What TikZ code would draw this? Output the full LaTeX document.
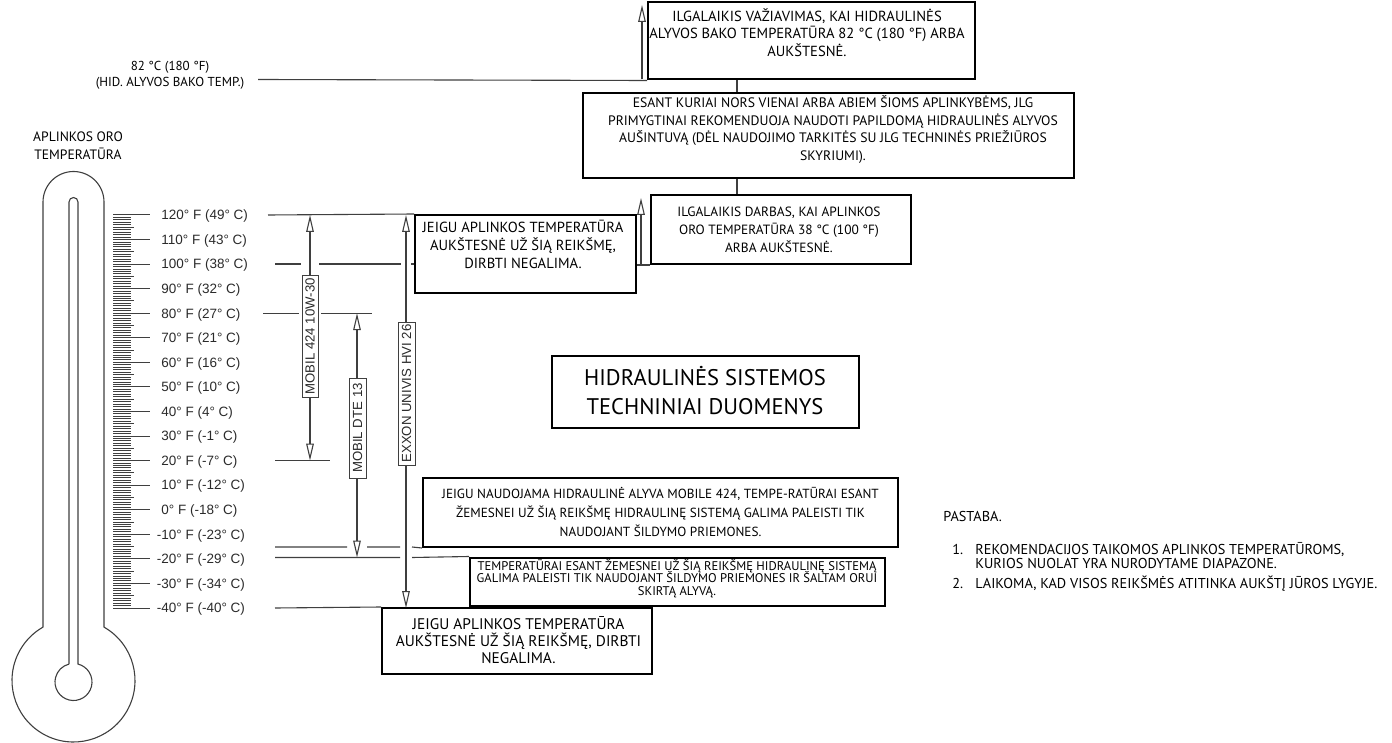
\documentclass[tikz,border=0pt]{standalone}
\usepackage{fontspec}
\setmainfont{PT Sans}
\newfontfamily\arialfam{Liberation Sans}
\usetikzlibrary{arrows.meta}
\definecolor{wire}{HTML}{3F3F3F}
\definecolor{scaleink}{HTML}{2A2A2A}
% box lettering: size and fixed leading
\newcommand{\boxtext}[2]{\fontsize{#1}{#2}\selectfont\lineskiplimit=-100pt\lineskip=0pt\relax}
\newcommand{\scaletext}{\arialfam\fontsize{6.75pt}{8pt}\selectfont}
\begin{document}
\begin{tikzpicture}[x=0.5pt,y=-0.5pt,
  frame/.style 2 args={draw=black, line width=1pt, fill=white, inner sep=0pt,
    minimum width=#1*0.5pt, minimum height=#2*0.5pt},
  txt/.style={align=center, inner sep=0pt, text=black},
  wireline/.style={draw=wire, line width=0.55pt},
  thermo/.style={draw=wire, line width=0.55pt},
  tick/.style={draw=wire, line width=0.5pt},
  uparrow/.style={wireline, -{Triangle[open, length=8.5pt, width=3.8pt]}},
  dbl/.style={wireline, {Triangle[open, length=8.5pt, width=3.8pt]}-{Triangle[open, length=8.5pt, width=3.8pt]}},
  vlab/.style 2 args={draw=wire, line width=0.5pt, fill=white, inner sep=0pt, rotate=90,
    minimum width=#1*0.5pt, minimum height=#2*0.5pt, font=\arialfam\fontsize{6.6pt}{7pt}\selectfont, text=scaleink},
  note/.style={anchor=base west, inner sep=0pt, font=\boxtext{7.15pt}{8pt}, text=black}
]
\useasboundingbox (0,0) rectangle (1392,743);

% ---------- thermometer ----------
\draw[thermo] (43,627.1) -- (43,202) arc[start angle=180, end angle=360, radius=30.5]
  -- (104,627.1) arc[start angle=-60.27, end angle=240.27, radius=61.5];
\draw[thermo] (69,664.06) -- (69,202) arc[start angle=180, end angle=360, radius=4.5]
  -- (78,664.06) arc[start angle=-75.92, end angle=255.92, radius=18.5];

% scale ticks, one per degree F
\foreach \i in {0,...,160}{
  \pgfmathsetmacro{\ty}{215+\i*2.45625}
  \pgfmathsetmacro{\tx}{ifthenelse(mod(\i,10)==0,150,ifthenelse(mod(\i,5)==0,134,131))}
  \draw[tick] (113,\ty) -- (\tx,\ty);
}
% scale labels
\foreach \f/\c [count=\k from 0] in {120/49,110/43,100/38,90/32,80/27,70/21,60/16,50/10,40/4,
    30/-1,20/-7,10/-12,0/-18,{\makebox[0pt][r]{-}10}/-23,{\makebox[0pt][r]{-}20}/-29,
    {\makebox[0pt][r]{-}30}/-34,{\makebox[0pt][r]{-}40}/-40}{
  \node[anchor=base west, inner sep=0pt, font=\scaletext, text=scaleink] (deg\k)
    at (161,{219.8+\k*24.5625}) {\f° F (\c° C)};
}

\node[txt, font=\boxtext{6.8pt}{9pt}] (ambient) at (78,146) {APLINKOS ORO\\TEMPERATŪRA};
\node[txt, font=\boxtext{6.5pt}{8pt}] (tanklabel) at (170,75) {82 °C (180 °F)\\(HID. ALYVOS BAKO TEMP.)};

% ---------- boxes ----------
\node[frame={327}{77.5}] (boxA) at (811.5,40.75) {};
\node[txt, font=\boxtext{7.3pt}{8.75pt}] (textA) at (807,32.5)
  {ILGALAIKIS VAŽIAVIMAS, KAI HIDRAULINĖS\\ALYVOS BAKO TEMPERATŪRA 82 °C (180 °F) ARBA\\AUKŠTESNĖ.};

\node[frame={491}{85.5}] (boxB) at (828.5,135.5) {};
\node[txt, font=\boxtext{6.85pt}{8.8pt}] (textB) at (833,129.6)
  {ESANT KURIAI NORS VIENAI ARBA ABIEM ŠIOMS APLINKYBĖMS, JLG\\PRIMYGTINAI REKOMENDUOJA NAUDOTI PAPILDOMĄ HIDRAULINĖS ALYVOS\\AUŠINTUVĄ (DĖL NAUDOJIMO TARKITĖS SU JLG TECHNINĖS PRIEŽIŪROS\\SKYRIUMI).};

\node[frame={260}{69}] (boxC) at (781,229.5) {};
\node[txt, font=\boxtext{6.7pt}{9.1pt}] (textC) at (779,230)
  {ILGALAIKIS DARBAS, KAI APLINKOS\\ORO TEMPERATŪRA 38 °C (100 °F)\\ARBA AUKŠTESNĖ.};

\node[frame={221}{78}] (boxD) at (525.5,254) {};
\node[txt, font=\boxtext{7.3pt}{9pt}] (textD) at (523,244.8)
  {JEIGU APLINKOS TEMPERATŪRA\\AUKŠTESNĖ UŽ ŠIĄ REIKŠMĘ,\\DIRBTI NEGALIMA.};

\node[frame={307}{72}] (boxH) at (705.5,392) {};
\node[txt, font=\fontsize{11.3pt}{14.2pt}\selectfont] (textH) at (705,390.5)
  {HIDRAULINĖS SISTEMOS\\TECHNINIAI DUOMENYS};

\node[frame={475}{69}] (boxE) at (660.5,512.5) {};
\node[txt, font=\boxtext{6.6pt}{9.35pt}] (textE) at (660.5,512)
  {JEIGU NAUDOJAMA HIDRAULINĖ ALYVA MOBILE 424, TEMPE-RATŪRAI ESANT\\ŽEMESNEI UŽ ŠIĄ REIKŠMĘ HIDRAULINĘ SISTEMĄ GALIMA PALEISTI TIK\\NAUDOJANT ŠILDYMO PRIEMONES.};

\node[frame={415}{48}] (boxF) at (677.5,581.5) {};
\node[txt, font=\boxtext{6.3pt}{6.2pt}] (textF) at (677,578.5)
  {TEMPERATŪRAI ESANT ŽEMESNEI UŽ ŠIĄ REIKŠMĘ HIDRAULINĘ SISTEMĄ\\GALIMA PALEISTI TIK NAUDOJANT ŠILDYMO PRIEMONES IR ŠALTAM ORUI\\SKIRTĄ ALYVĄ.};

\node[frame={270}{66}] (boxG) at (517,641) {};
\node[txt, font=\boxtext{7.7pt}{8.35pt}] (textG) at (518.5,640)
  {JEIGU APLINKOS TEMPERATŪRA\\AUKŠTESNĖ UŽ ŠIĄ REIKŠMĘ, DIRBTI\\NEGALIMA.};

% ---------- connectors between the upper boxes ----------
\coordinate (jx) at (737,0);
\draw[wireline] (boxA.south -| jx) -- (boxB.north -| jx);
\draw[wireline] (boxB.south -| jx) -- (boxC.north -| jx);

% hydraulic tank limit
\coordinate (tankline) at (258,79.5);
\draw[wireline] (tankline) -- (boxA.south west);
\coordinate (tankfoot) at (642,79.5);
\coordinate (tanktip) at (642,5);
\draw[uparrow] (tankfoot) -- (tanktip);

% ---------- temperature reference lines ----------
\draw[wireline] (268,215) -- (boxD.north west);
\draw[wireline] (275,264) -- (301,264) (319,264) -- (401,264) (411,264) -- (boxD.west |- 0,264);
\draw[wireline] (boxD.east |- boxC.south) -- (boxC.south west);
\coordinate (ambfoot) at (641,264);
\coordinate (ambtip) at (641,198);
\draw[uparrow] (ambfoot) -- (ambtip);
\draw[wireline] (263,313.2) -- (299,313.2) (321,313.2) -- (372,313.2);
\draw[wireline] (275,460.6) -- (330,460.6);
\draw[wireline] (275,547) -- (347,547) (367,547) -- (400,547) (412,547) -- (boxE.south west);
\draw[wireline] (275,557.5) -- (400,557.5) (412,557.5) -- (boxF.north west);
\draw[wireline] (275,608) -- (boxG.north west);

% ---------- oil ranges ----------
\coordinate (m4top) at (310,215);
\coordinate (m4bot) at (310,460.6);
\draw[dbl] (m4top) -- (m4bot);
\node[vlab={121}{16}] (m4lab) at (310,336.5) {MOBIL 424 10W-30};

\coordinate (dtetop) at (357,313.2);
\coordinate (dtebot) at (357,557.5);
\draw[dbl] (dtetop) -- (dtebot);
\node[vlab={100}{17}] (dtelab) at (357.5,428) {MOBIL DTE 13};

\coordinate (hvitop) at (406,215);
\coordinate (hvibot) at (406,608);
\draw[dbl] (hvitop) -- (hvibot);
\node[vlab={143}{17}] (hvilab) at (406.5,393.5) {EXXON UNIVIS HVI 26};

% ---------- notes ----------
\node[note] (nhead) at (943,521.5) {PASTABA.};
\node[note] (n1num) at (952,554.5) {1.};
\node[note] (n1a) at (975,554.5) {REKOMENDACIJOS TAIKOMOS APLINKOS TEMPERATŪROMS,};
\node[note] (n1b) at (975,568) {KURIOS NUOLAT YRA NURODYTAME DIAPAZONE.};
\node[note] (n2num) at (952,588.5) {2.};
\node[note] (n2a) at (975,588.5) {LAIKOMA, KAD VISOS REIKŠMĖS ATITINKA AUKŠTĮ JŪROS LYGYJE.};
\end{tikzpicture}
\end{document}
